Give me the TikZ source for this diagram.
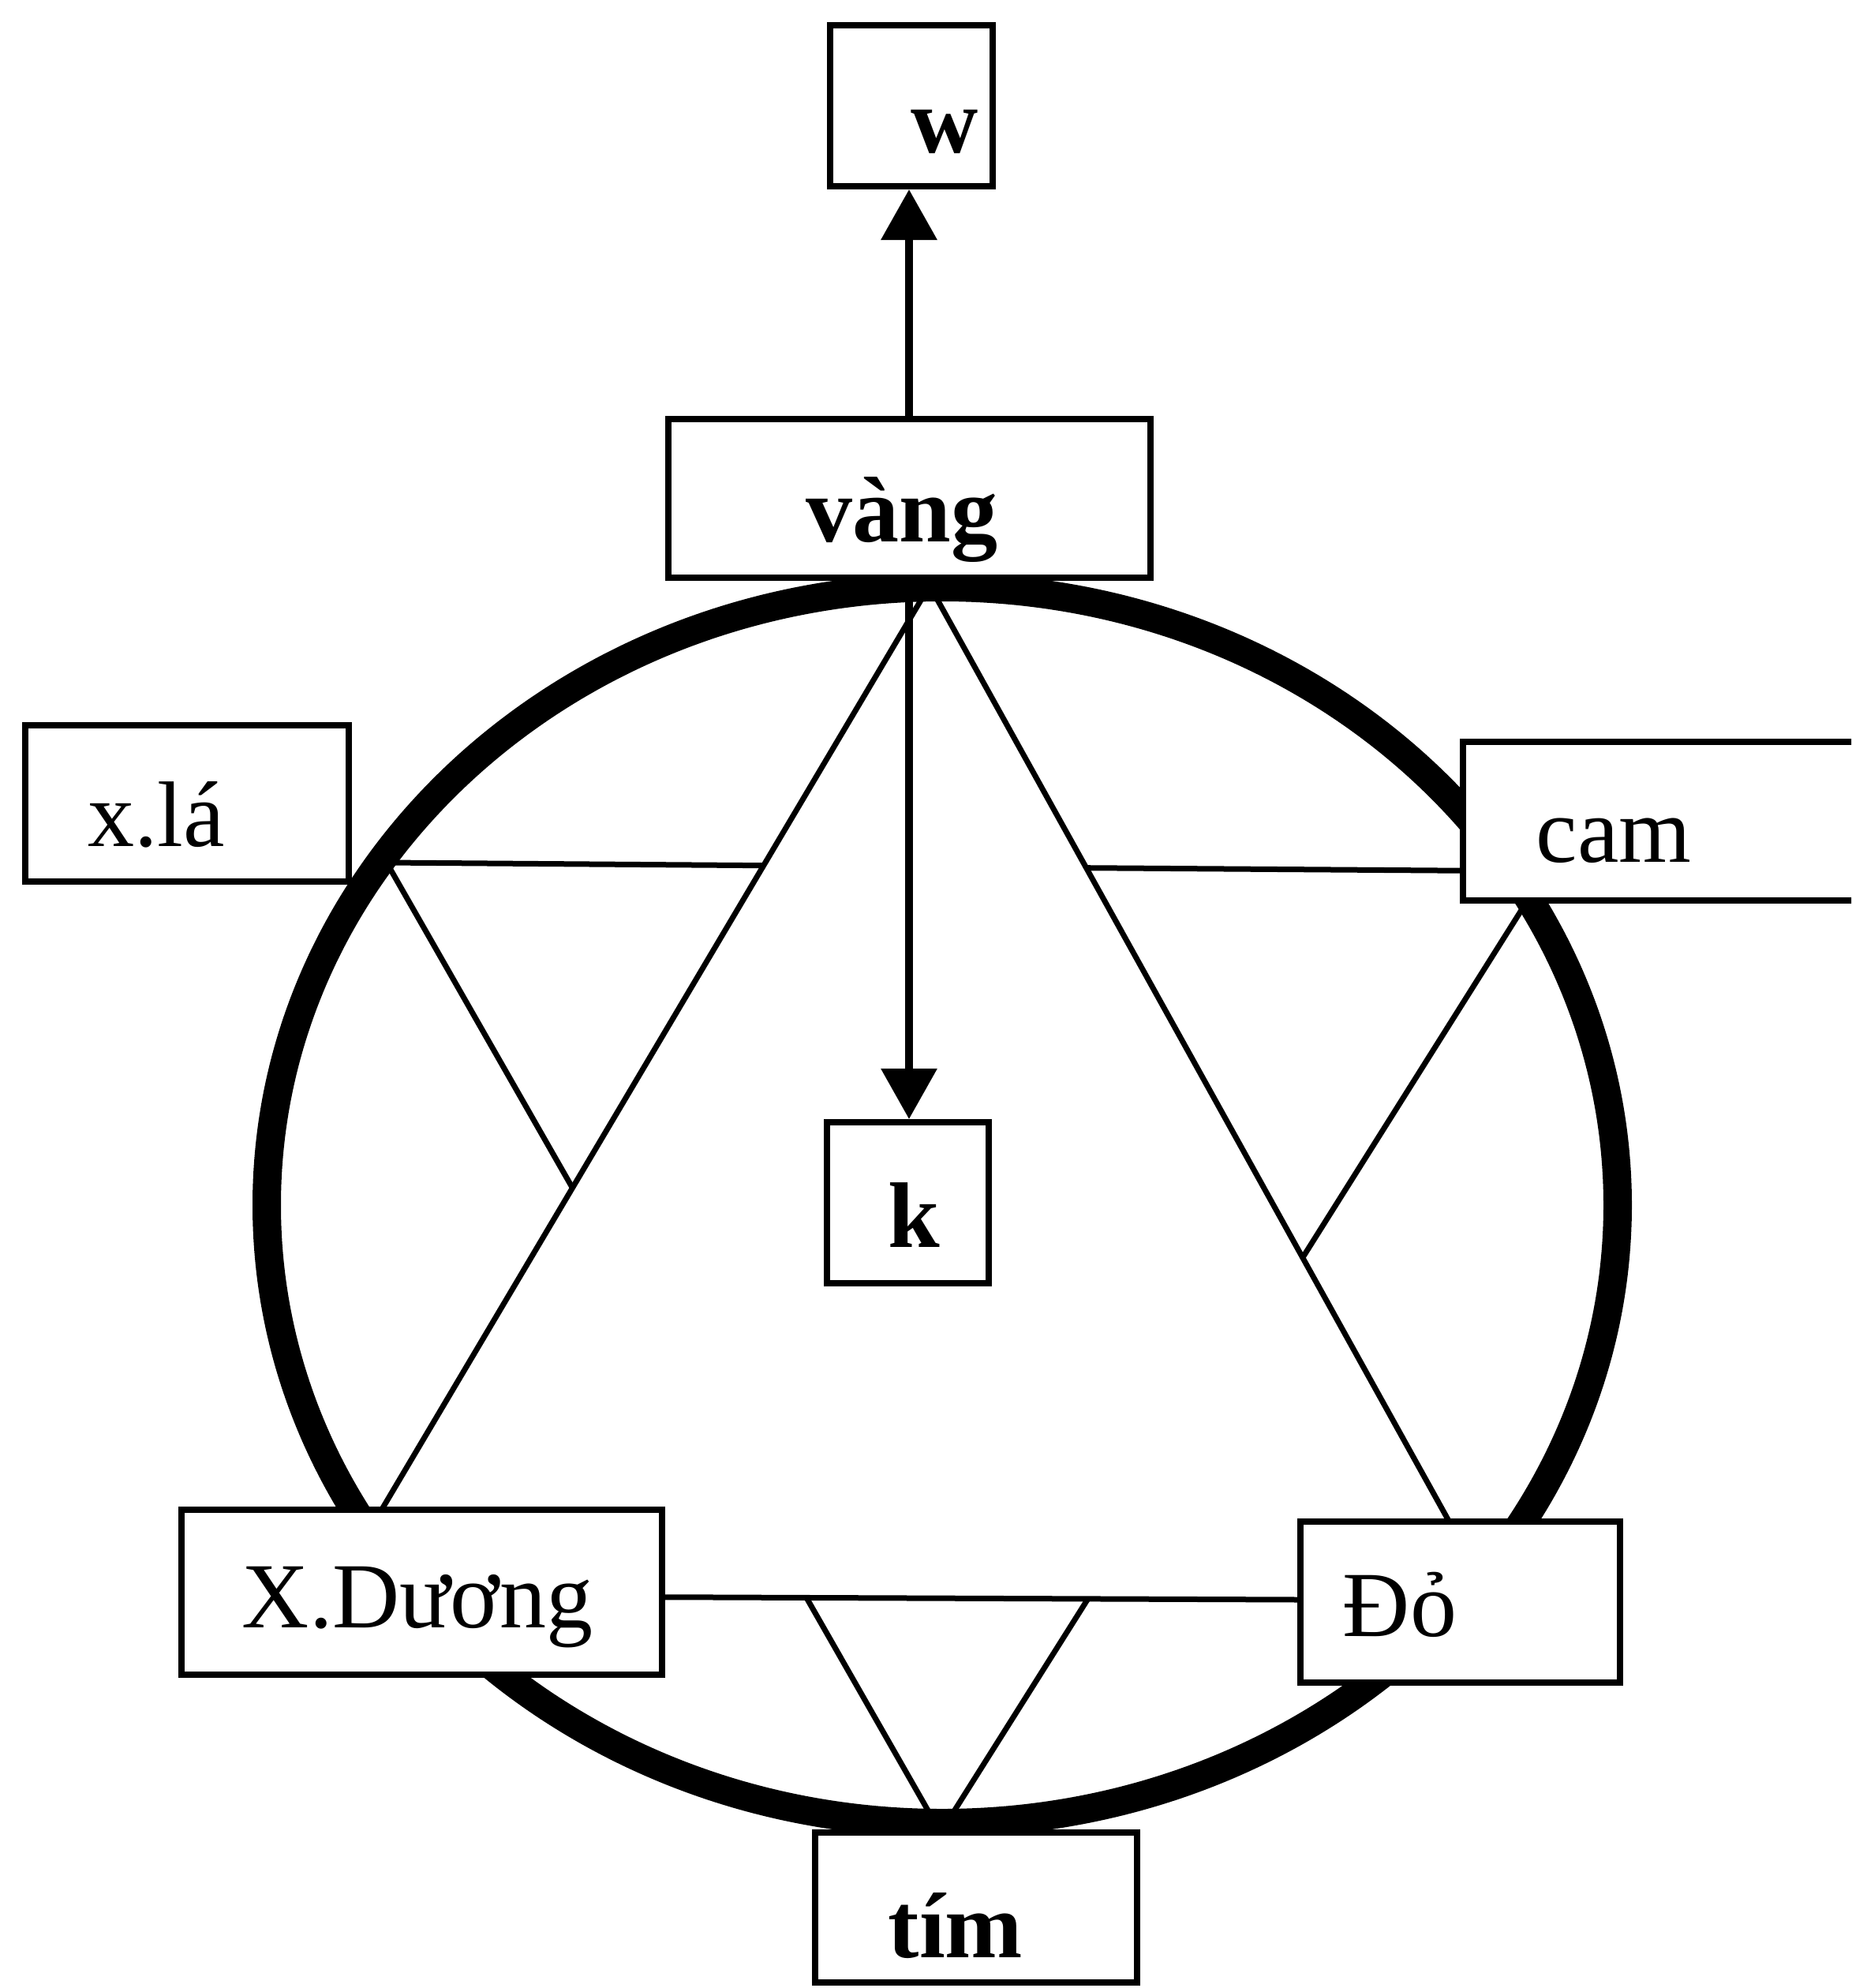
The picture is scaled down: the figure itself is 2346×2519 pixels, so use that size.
\documentclass[tikz,border=0pt]{standalone}
\usepackage{fontspec}
\setmainfont{Liberation Serif}
\usetikzlibrary{arrows.meta,calc}
\begin{document}
\begin{tikzpicture}[x=1pt,y=-1pt,
  box/.style={draw, line width=8pt, fill=white, inner sep=0pt},
  lbl/.style={font=\fontsize{118}{120}\selectfont, inner sep=0pt, anchor=base},
  blbl/.style={font=\fontsize{118}{120}\selectfont\bfseries, inner sep=0pt, anchor=base},
  edge/.style={line width=7pt},
  arr/.style={line width=10pt, -{Triangle[width=69pt,length=64pt]}},
  ring/.style={line width=36pt}]
\useasboundingbox (0,0) rectangle (2346,2519);
\fill[white] (0,0) rectangle (2346,2519);
\clip (0,0) rectangle (2346,2519);

% star vertices
\coordinate (A) at (1178,742);   % vang apex
\coordinate (B) at (419,2022);   % X.Duong
\coordinate (D) at (1892,2028);  % Do
\coordinate (C) at (490,1093);   % x.la
\coordinate (E) at (1959,1104);  % cam
\coordinate (T) at (1192,2322);  % tim

% up triangle
\draw[edge] (A) -- (B);
\draw[edge] (A) -- (D);
\draw[edge] (B) -- (D);
% down triangle, only the parts outside the up triangle
\draw[edge] (C) -- (intersection of C--E and A--B);
\draw[edge] (intersection of C--E and A--D) -- (E);
\draw[edge] (C) -- (intersection of C--T and A--B);
\draw[edge] (intersection of C--T and B--D) -- (T);
\draw[edge] (E) -- (intersection of E--T and A--D);
\draw[edge] (intersection of E--T and B--D) -- (T);

% ring
\draw[ring] (1194,1527) ellipse [x radius=856pt, y radius=783pt];

% boxes
\node[box, minimum width=206pt, minimum height=204pt] (w) at (1155,134) {};
\node[box, minimum width=611pt, minimum height=201pt] (vang) at (1152,631) {};
\node[box, minimum width=410pt, minimum height=198pt] (xla) at (237,1018) {};
\node[box, minimum width=546pt, minimum height=201pt] (cam) at (2127,1040) {};
\node[box, minimum width=609pt, minimum height=209pt] (xd) at (534,2017) {};
\node[box, minimum width=405pt, minimum height=204pt] (do) at (1850,2030) {};
\node[box, minimum width=408pt, minimum height=190pt] (tim) at (1237,2417) {};
\node[box, minimum width=205pt, minimum height=204pt] (k) at (1150,1524) {};

% texts
\node[blbl] (wt) at ($(w.center)+(42,59)$) {w};
\node[blbl] (vangt) at ($(vang.center)+(-9,55)$) {vàng};
\node[lbl] (xlat) at ($(xla.center)+(-39,54)$) {x.lá};
\node[lbl] (camt) at ($(cam.center)+(-82,52)$) {cam};
\node[lbl] (xdt) at ($(xd.center)+(-5,45)$) {X.Dương};
\node[lbl] (dot) at ($(do.center)+(-76,43)$) {Đỏ};
\node[blbl] (timt) at ($(tim.center)+(-26,63)$) {tím};
\node[blbl] (kt) at ($(k.center)+(8,56)$) {k};

% arrows
\draw[arr] (vang.north) -- (vang.north |- w.south);
\draw[arr] (vang.south) -- (vang.south |- k.north);
\end{tikzpicture}
\end{document}
